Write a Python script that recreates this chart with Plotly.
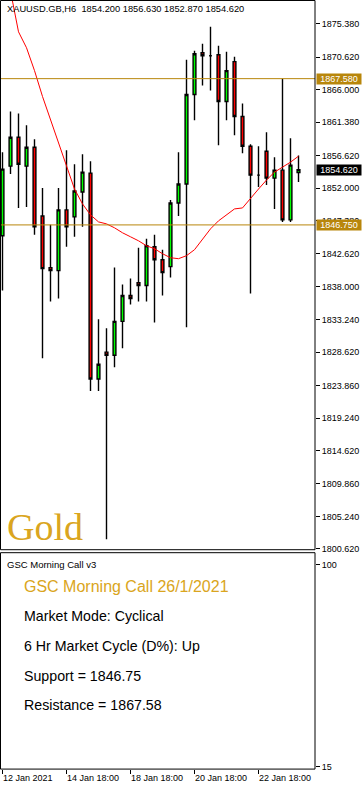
import plotly.graph_objects as go

W, H = 364, 791

# ---------------- data ----------------
bar_index = list(range(38))
opens = [1845.20, 1855.12, 1859.23, 1855.12, 1857.81, 1848.03, 1840.67, 1840.24, 1848.89, 1847.89,
         1851.44, 1854.13, 1824.80, 1828.63, 1828.20, 1833.02, 1836.70, 1838.54, 1838.12, 1843.64,
         1841.80, 1840.81, 1849.88, 1852.57, 1865.32, 1871.27, 1870.85, 1870.99, 1864.33, 1870.00,
         1862.20, 1857.95, 1853.84, 1857.24, 1853.42, 1854.55, 1847.47, 1854.20]
highs = [1857.10, 1862.91, 1862.63, 1860.93, 1858.94, 1852.00, 1846.76, 1852.00, 1857.39, 1855.40,
         1856.82, 1855.83, 1833.30, 1832.02, 1840.67, 1838.26, 1839.11, 1843.50, 1844.78, 1845.34,
         1843.22, 1850.30, 1857.10, 1870.28, 1871.55, 1872.55, 1874.96, 1872.26, 1871.41, 1870.70,
         1864.05, 1858.24, 1857.95, 1859.94, 1856.39, 1867.58, 1859.09, 1856.63]
lows = [1837.41, 1853.99, 1849.17, 1849.31, 1845.34, 1827.77, 1835.85, 1836.28, 1843.64, 1845.06,
        1846.48, 1823.10, 1823.10, 1801.99, 1826.50, 1829.19, 1835.43, 1835.85, 1835.85, 1832.87,
        1836.70, 1839.25, 1848.03, 1832.17, 1861.64, 1866.60, 1865.89, 1858.09, 1861.64, 1859.51,
        1856.96, 1836.98, 1852.14, 1852.43, 1849.03, 1847.18, 1847.18, 1852.87]
closes = [1854.69, 1859.23, 1855.40, 1857.81, 1846.48, 1840.53, 1840.24, 1848.89, 1846.48, 1851.58,
          1854.27, 1824.80, 1826.92, 1828.20, 1833.02, 1836.70, 1836.28, 1838.12, 1843.78, 1841.80,
          1839.96, 1849.88, 1852.57, 1865.32, 1871.13, 1870.85, 1870.85, 1864.33, 1868.72, 1862.20,
          1857.95, 1853.84, 1853.84, 1853.42, 1854.55, 1847.47, 1855.26, 1854.62]
moving_avg = [1885.86, 1880.20, 1874.25, 1871.98, 1868.72, 1865.04, 1861.78, 1858.52, 1854.98, 1851.86,
              1849.74, 1848.18, 1847.18, 1846.90, 1846.34, 1845.63, 1845.06, 1844.49, 1843.78, 1843.36,
              1842.65, 1842.08, 1841.94, 1842.37, 1843.22, 1844.78, 1846.19, 1847.33, 1848.18, 1849.03,
              1849.17, 1850.59, 1851.86, 1853.14, 1854.27, 1854.98, 1855.69, 1856.54]

price_ticks = [1875.38, 1870.62, 1866.00, 1861.38, 1856.62, 1852.00, 1847.38, 1842.62, 1838.00,
               1833.24, 1828.62, 1823.86, 1819.24, 1814.62, 1809.86, 1805.24, 1800.62]
time_tick_pos = [0, 8, 16, 24, 32]
time_tick_labels = ["12 Jan 2021", "14 Jan 18:00", "18 Jan 18:00", "20 Jan 18:00", "22 Jan 18:00"]
osc_ticks = [15, 100]

support = 1846.75
resistance = 1867.58
last_price = 1854.62
header = "XAUUSD.GB,H6  1854.200 1856.630 1852.870 1854.620"
panel_lines = ["Market Mode: Cyclical", "6 Hr Market Cycle (D%): Up",
               f"Support = {support:.2f}", f"Resistance = {resistance:.2f}"]

# ---------------- styling ----------------
FONT = "Liberation Sans, Arial, sans-serif"
GOLD_LINE = "#B8860B"
GOLD_TEXT = "#DAA520"


def px(x):
    return x / W


def py(y):
    return 1 - y / H


PLOT_RIGHT = 315
MAIN_BOTTOM = 552.5
LOW_TOP = 555.5
LOW_BOTTOM = 773

fig = go.Figure()

fig.add_trace(go.Candlestick(
    x=bar_index, open=opens, high=highs, low=lows, close=closes,
    increasing=dict(fillcolor="#00FF00", line=dict(color="black", width=1.4)),
    decreasing=dict(fillcolor="#FF0000", line=dict(color="black", width=1.4)),
    whiskerwidth=0, hoverinfo="skip", xaxis="x", yaxis="y", showlegend=False,
))
fig.add_trace(go.Scatter(
    x=bar_index, y=moving_avg, mode="lines", line=dict(color="#FF0000", width=1),
    hoverinfo="skip", xaxis="x", yaxis="y", showlegend=False,
))
fig.add_trace(go.Scatter(
    x=[bar_index[0]], y=[50], mode="markers", marker=dict(opacity=0),
    hoverinfo="skip", xaxis="x", yaxis="y2", showlegend=False,
))

tickfont = dict(family=FONT, size=9, color="black")

fig.update_layout(
    width=W, height=H,
    margin=dict(l=0, r=0, t=0, b=0),
    paper_bgcolor="white", plot_bgcolor="white",
    boxgap=0.5,
    showlegend=False,
    hovermode=False,
    xaxis=dict(
        domain=[0, px(PLOT_RIGHT)], range=[-0.3125, 39.0625], anchor="y2",
        rangeslider=dict(visible=False),
        tickmode="array", tickvals=time_tick_pos, ticktext=time_tick_labels,
        ticks="outside", ticklen=4, tickcolor="black", tickwidth=1,
        ticklabelposition="outside right",
        tickfont=tickfont, showgrid=False, zeroline=False, showline=False,
    ),
    yaxis=dict(
        domain=[py(MAIN_BOTTOM), 1], range=[1800.50, 1878.78], anchor="x", side="right",
        tickmode="array", tickvals=price_ticks, ticktext=[f"{v:.3f}" for v in price_ticks],
        ticks="outside", ticklen=4, tickcolor="black", tickwidth=1,
        tickfont=tickfont, showgrid=False, zeroline=False, showline=False,
    ),
    yaxis2=dict(
        domain=[py(LOW_BOTTOM), py(LOW_TOP)], range=[14.1, 105.1], anchor="x", side="right",
        tickmode="array", tickvals=osc_ticks, ticktext=[str(v) for v in osc_ticks],
        ticks="outside", ticklen=4, tickcolor="black", tickwidth=1,
        tickfont=tickfont, showgrid=False, zeroline=False, showline=False,
    ),
)

shapes = []
for lvl in (resistance, support):
    shapes.append(dict(type="line", xref="paper", yref="y", x0=0, x1=px(PLOT_RIGHT), y0=lvl, y1=lvl,
                       line=dict(color=GOLD_LINE, width=1), layer="above"))
shapes.append(dict(type="rect", xref="paper", yref="paper", x0=px(0.5), x1=px(PLOT_RIGHT),
                   y0=py(MAIN_BOTTOM), y1=py(0.5), line=dict(color="black", width=1), fillcolor="rgba(0,0,0,0)"))
shapes.append(dict(type="rect", xref="paper", yref="paper", x0=px(0.5), x1=px(PLOT_RIGHT),
                   y0=py(LOW_BOTTOM), y1=py(LOW_TOP), line=dict(color="black", width=1), fillcolor="rgba(0,0,0,0)"))
fig.update_layout(shapes=shapes)

ann = []
ann.append(dict(text=header, xref="paper", yref="paper", x=px(5), y=py(9), xanchor="left", yanchor="middle",
                showarrow=False, font=dict(family=FONT, size=9.3, color="black")))
for val, bg in ((resistance, GOLD_LINE), (support, GOLD_LINE), (last_price, "black")):
    ann.append(dict(text=f"{val:.3f}", xref="paper", yref="y", x=px(316), y=val, xanchor="left",
                    yanchor="middle", showarrow=False, bgcolor=bg, width=44, height=10, borderpad=0,
                    font=dict(family=FONT, size=9, color="white")))
ann.append(dict(text="Gold", xref="paper", yref="paper", x=px(5), y=py(530), xanchor="left", yanchor="middle",
                showarrow=False, font=dict(family="Liberation Serif, Times New Roman, serif", size=38, color=GOLD_TEXT)))
ann.append(dict(text="GSC Morning Call v3", xref="paper", yref="paper", x=px(5), y=py(567), xanchor="left",
                yanchor="middle", showarrow=False, font=dict(family=FONT, size=9.5, color="black")))
ann.append(dict(text="GSC Morning Call 26/1/2021", xref="paper", yref="paper", x=px(22), y=py(589.5),
                xanchor="left", yanchor="middle", showarrow=False,
                font=dict(family=FONT, size=16, color=GOLD_TEXT)))
for i, line in enumerate(panel_lines):
    ann.append(dict(text=line, xref="paper", yref="paper", x=px(22), y=py(619 + 30 * i), xanchor="left",
                    yanchor="middle", showarrow=False, font=dict(family=FONT, size=14.2, color="black")))
fig.update_layout(annotations=ann)

fig.write_html(
    "out.html",
    config={"displayModeBar": False},
    post_script="document.body.style.margin='0';document.body.style.padding='0';"
                "document.body.style.overflow='hidden';",
)
